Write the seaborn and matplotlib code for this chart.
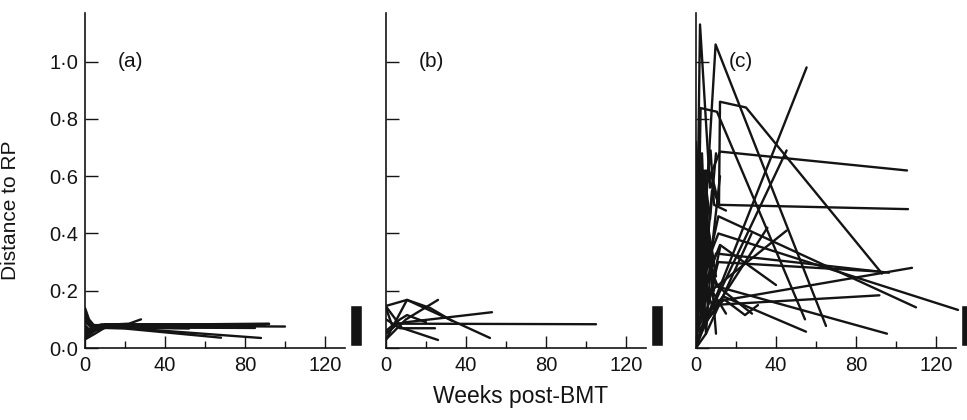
import matplotlib
matplotlib.use("Agg")
import matplotlib.pyplot as plt
import seaborn as sns
import pandas as pd
from matplotlib.ticker import FixedLocator, FuncFormatter

sns.set_theme(style="white")
plt.rcParams['font.family'] = ['Liberation Sans', 'DejaVu Sans']

# ---------------- data (weeks, distance to RP) ----------------
panel_labels = ["(a)", "(b)", "(c)"]

# panel (a)
a_weeks = [
    [0, 2, 5, 10, 92],
    [0, 4, 8, 100],
    [0, 3, 9, 20, 88],
    [0, 5, 10, 20, 68],
    [0, 4, 10, 52],
    [0, 3, 8, 22, 28],
    [0, 2, 6, 90],
    [0, 5, 12, 92],
    [0, 3, 7, 45],
    [0, 6, 60],
    [0, 2, 9, 80],
    [0, 4, 35],
    [0, 1, 4, 70],
    [0, 3, 8, 50],
    [0, 2, 7, 85],
    [0, 4, 9, 40],
]
a_dist = [
    [0.14, 0.10, 0.075, 0.083, 0.083],
    [0.05, 0.065, 0.078, 0.075],
    [0.04, 0.06, 0.075, 0.07, 0.035],
    [0.035, 0.06, 0.07, 0.068, 0.036],
    [0.06, 0.065, 0.072, 0.068],
    [0.12, 0.08, 0.08, 0.085, 0.10],
    [0.07, 0.06, 0.075, 0.08],
    [0.03, 0.05, 0.08, 0.085],
    [0.09, 0.075, 0.08, 0.078],
    [0.055, 0.07, 0.075],
    [0.065, 0.055, 0.078, 0.08],
    [0.045, 0.07, 0.075],
    [0.13, 0.09, 0.07, 0.074],
    [0.10, 0.07, 0.082, 0.08],
    [0.08, 0.065, 0.072, 0.07],
    [0.05, 0.068, 0.08, 0.079],
]

# panel (b)
b_weeks = [
    [0, 10.5, 52],
    [0, 8, 26],
    [0, 10.5, 22, 33],
    [0, 10, 26],
    [0, 6, 105],
    [0, 3, 10, 53],
    [0, 7, 24.5],
    [0, 7, 10.5, 20],
]
b_dist = [
    [0.147, 0.168, 0.035],
    [0.145, 0.07, 0.028],
    [0.03, 0.168, 0.14, 0.095],
    [0.03, 0.10, 0.168],
    [0.05, 0.085, 0.083],
    [0.14, 0.08, 0.09, 0.125],
    [0.10, 0.069, 0.069],
    [0.06, 0.10, 0.115, 0.09],
]

# panel (c)
c_weeks = [
    [0, 1, 2, 7],
    [0, 5, 9.8, 65],
    [0, 8, 11.5, 12, 25, 93],
    [0, 5, 11.5, 106],
    [0, 4, 12, 105.5],
    [0.5, 2.3, 10.5, 54.5],
    [1, 55.3],
    [2, 45.3],
    [0, 11.2, 131],
    [0, 11.2, 110],
    [0, 8.5, 108],
    [0, 8, 91.7],
    [0, 11, 95.5],
    [0, 3, 13.7, 55],
    [0, 6, 35.7],
    [0, 4, 45.3],
    [0, 14, 24.5, 31],
    [0, 10, 96.5],
    [0, 1, 3, 5, 8],
    [0, 2, 4, 7, 10],
    [0, 1.5, 4, 6],
    [0, 5, 27.8],
    [0, 11.2, 91.7],
    [0, 3, 9],
    [0, 2, 6, 12],
    [0, 5, 10],
    [0, 8, 15],
    [0, 5, 7.3, 9, 15],
    [0, 3, 12, 40],
    [0, 2, 10, 28],
    [0, 1, 2, 4, 6],
    [0, 2, 3, 5, 9],
    [0, 1, 3, 6, 11],
    [0, 2, 5, 8, 12],
    [0, 1.5, 3.5, 7],
    [0, 3, 6, 10],
]
c_dist = [
    [0.05, 0.6, 1.13, 0.56],
    [0.2, 0.5, 1.06, 0.077],
    [0.55, 0.6, 0.5, 0.86, 0.84, 0.26],
    [0.3, 0.62, 0.5, 0.485],
    [0.65, 0.55, 0.686, 0.62],
    [0.1, 0.838, 0.825, 0.10],
    [0.02, 0.98],
    [0.05, 0.69],
    [0.2, 0.40, 0.133],
    [0.1, 0.46, 0.142],
    [0.02, 0.16, 0.28],
    [0.3, 0.15, 0.184],
    [0.4, 0.214, 0.05],
    [0.05, 0.1, 0.18, 0.057],
    [0.02, 0.1, 0.42],
    [0.03, 0.18, 0.41],
    [0.05, 0.17, 0.115, 0.15],
    [0.1, 0.33, 0.263],
    [0.72, 0.45, 0.68, 0.3, 0.55],
    [0.65, 0.5, 0.62, 0.45, 0.68],
    [0.4, 0.7, 0.25, 0.5],
    [0.0, 0.05, 0.40],
    [0.15, 0.30, 0.267],
    [0.0, 0.55, 0.3],
    [0.0, 0.3, 0.15, 0.35],
    [0.0, 0.45, 0.25],
    [0.0, 0.2, 0.12],
    [0.3, 0.55, 0.69, 0.5, 0.48],
    [0.1, 0.2, 0.36, 0.22],
    [0.25, 0.4, 0.22, 0.12],
    [0.5, 0.2, 0.6, 0.1, 0.4],
    [0.35, 0.6, 0.1, 0.5, 0.2],
    [0.6, 0.25, 0.5, 0.15, 0.3],
    [0.2, 0.45, 0.05, 0.35, 0.6],
    [0.7, 0.3, 0.55, 0.25],
    [0.45, 0.1, 0.4, 0.05],
]

# reference-range bar (same in each panel)
bar_week = 135.5
bar_low = 0.007
bar_high = 0.150

x_major = [0, 40, 80, 120]
x_minor = [20, 60, 100]
y_ticks = [0.0, 0.2, 0.4, 0.6, 0.8, 1.0]

panels = [(a_weeks, a_dist), (b_weeks, b_dist), (c_weeks, c_dist)]


def to_frame(weeks, dist):
    rows = []
    for pid, (ws, ds) in enumerate(zip(weeks, dist)):
        for order, (w, d) in enumerate(zip(ws, ds)):
            rows.append({"patient": pid, "order": order, "week": w, "dist": d})
    return pd.DataFrame(rows)


# ---------------- figure ----------------
W, H = 967, 420
fig = plt.figure(figsize=(W / 100, H / 100), dpi=100)
fig.patch.set_facecolor("white")

lefts_px = [85, 386, 696]
y_bottom_px, y_top_px = 348, 13
axw_px = 280
fs = 14.5
ink = "#141414"

for i, ((weeks, dist), left) in enumerate(zip(panels, lefts_px)):
    ax = fig.add_axes([left / W, (H - y_bottom_px) / H, axw_px / W, (y_bottom_px - y_top_px) / H])
    ax.set_facecolor("none")
    df = to_frame(weeks, dist)
    sns.lineplot(data=df, x="week", y="dist", units="patient", estimator=None,
                 sort=False, color=ink, linewidth=1.7, ax=ax, legend=False)
    ax.bar([bar_week], [bar_high - bar_low], bottom=[bar_low], width=6,
           color=ink, clip_on=False)
    ax.set_xlim(0, 140)
    ax.set_ylim(0, 1.17)
    for s in ["top", "right"]:
        ax.spines[s].set_visible(False)
    for s in ["left", "bottom"]:
        ax.spines[s].set_color(ink)
        ax.spines[s].set_linewidth(1.2)
    ax.spines["bottom"].set_bounds(0, 130)
    ax.xaxis.set_major_locator(FixedLocator(x_major))
    ax.xaxis.set_minor_locator(FixedLocator(x_minor))
    ax.yaxis.set_major_locator(FixedLocator(y_ticks))
    ax.tick_params(axis="x", which="major", direction="in", length=8.6, width=1.0,
                   color=ink, labelsize=fs, pad=6, bottom=True)
    ax.tick_params(axis="x", which="minor", direction="in", length=5, width=1.0,
                   color=ink, bottom=True)
    ax.tick_params(axis="y", which="major", direction="in", length=9.4, width=1.0,
                   color=ink, labelsize=fs, pad=5, left=True)
    ax.set_xlabel("")
    ax.set_ylabel("")
    if i == 0:
        ax.yaxis.set_major_formatter(FuncFormatter(lambda v, p: f"{v:.1f}".replace(".", "\u00b7")))
        ax.set_ylabel("Distance to RP", fontsize=fs + 0.5, color=ink)
        ax.yaxis.set_label_coords(-0.232, 0.41)
    else:
        ax.set_yticklabels([])
    for lab in ax.get_xticklabels() + ax.get_yticklabels():
        lab.set_color(ink)
    ax.text(16.5, 1.0, panel_labels[i], fontsize=fs + 0.5, va="center", ha="left", color=ink)

fig.text(521 / W, 1 - 397 / H, "Weeks post-BMT", fontsize=16.5, ha="center", va="center",
         color=ink)

fig.savefig("out.png", dpi=100, facecolor="white")
